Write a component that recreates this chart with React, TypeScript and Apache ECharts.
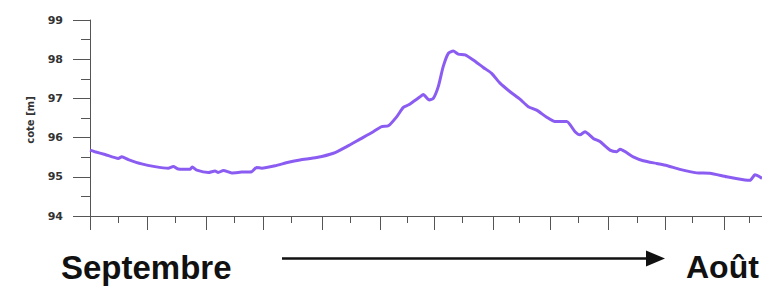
import React, { useEffect, useRef } from "react";
import * as echarts from "echarts";

// Days since 1 September
const days = [
  0, 2.6, 7.9, 14.9, 16.7, 20.2, 27.2, 34.2, 41.2, 43.8, 46.5, 52.6, 53.8, 56.2,
  62.3, 65.8, 67.5, 70.2, 74.6, 79.8, 85.1, 87.7, 90.4, 97.4, 104.4, 110.5,
  119.3, 128.1, 135.1, 142.1, 149.1, 153.5, 157.0, 161.4, 164.9, 167.5, 170.2,
  173.7, 175.4, 178.6, 180.7, 183.3, 185.9, 188.6, 191.2, 193.8, 197.4, 201.7,
  207.0, 211.4, 215.8, 221.1, 226.3, 230.7, 235.1, 240.4, 244.7, 250.9, 255.3,
  257.9, 260.5, 264.9, 268.4, 273.7, 277.2, 278.9, 285.9, 291.2, 298.3, 303.5,
  310.5, 319.3, 326.3, 335.1, 344.7, 347.4, 350.0, 353.7,
];
// Water level (cote, m)
const levels = [
  95.68, 95.64, 95.57, 95.47, 95.51, 95.44, 95.33, 95.26, 95.22, 95.26, 95.2,
  95.19, 95.25, 95.17, 95.11, 95.15, 95.11, 95.16, 95.1, 95.12, 95.13, 95.24,
  95.22, 95.28, 95.37, 95.43, 95.49, 95.6, 95.77, 95.96, 96.15, 96.28, 96.3,
  96.53, 96.77, 96.83, 96.92, 97.04, 97.1, 96.96, 97.0, 97.3, 97.81, 98.15,
  98.21, 98.13, 98.11, 97.98, 97.79, 97.64, 97.39, 97.17, 96.98, 96.79, 96.7,
  96.52, 96.41, 96.41, 96.15, 96.07, 96.15, 95.98, 95.9, 95.68, 95.64, 95.7,
  95.51, 95.41, 95.34, 95.29, 95.19, 95.1, 95.09, 95.0, 94.92, 94.91, 95.05,
  94.96,
];
// Month starts (major ticks) and mid-month (minor ticks), in days
const monthStarts = [0, 30, 61, 91, 122, 153, 181, 212, 242, 273, 303, 334];
const midMonths = [15, 45, 76, 106, 137, 167, 196, 226, 257, 288, 317, 347];
const startLabel = "Septembre";
const endLabel = "Août";
const yName = "cote [m]";

export default function App() {
  const ref = useRef<HTMLDivElement>(null);
  useEffect(() => {
    if (!ref.current) return;
    const chart = echarts.init(ref.current, null, { renderer: "svg" });
    const axisColor = "#555";
    const xMax = 353.7;
    chart.setOption({
      animation: false,
      backgroundColor: "#ffffff",
      grid: { left: 90, right: 0, top: 20, bottom: 70 },
      xAxis: [
        {
          type: "value",
          min: 0,
          max: xMax,
          position: "bottom",
          axisLine: { show: true, onZero: false, lineStyle: { color: axisColor, width: 1 } },
          axisTick: { show: true, customValues: monthStarts, length: 14, lineStyle: { color: axisColor } },
          axisLabel: { show: false },
          splitLine: { show: false },
        },
        {
          type: "value",
          min: 0,
          max: xMax,
          position: "bottom",
          axisLine: { show: false, onZero: false },
          axisTick: { show: true, customValues: midMonths, length: 7, lineStyle: { color: axisColor } },
          axisLabel: { show: false },
          splitLine: { show: false },
        },
      ],
      yAxis: {
        type: "value",
        min: 94,
        max: 99,
        interval: 1,
        axisLine: { show: true, lineStyle: { color: axisColor, width: 1 } },
        axisTick: { show: true, length: 17, lineStyle: { color: axisColor } },
        minorTick: { show: true, splitNumber: 2, length: 9, lineStyle: { color: axisColor } },
        axisLabel: {
          margin: 27,
          fontFamily: "DejaVu Sans",
          fontWeight: "bold",
          fontSize: 11,
          color: "#333",
        },
        splitLine: { show: false },
        minorSplitLine: { show: false },
      },
      series: [
        {
          type: "line",
          xAxisIndex: 0,
          data: days.map((d, i) => [d, levels[i]]),
          showSymbol: false,
          smooth: 0.2,
          lineStyle: { color: "#8b5cf1", width: 3 },
          clip: false,
        },
      ],
      graphic: [
        {
          type: "text",
          x: 30,
          y: 120,
          rotation: Math.PI / 2,
          style: {
            text: yName,
            fontFamily: "DejaVu Sans",
            fontWeight: "bold",
            fontSize: 10,
            fill: "#333",
            align: "center",
            verticalAlign: "middle",
          },
        },
        {
          type: "text",
          x: 61,
          y: 267,
          style: {
            text: startLabel,
            fontFamily: "Liberation Sans",
            fontWeight: "bold",
            fontSize: 33,
            fill: "#111",
            align: "left",
            verticalAlign: "middle",
          },
        },
        {
          type: "text",
          x: 686,
          y: 267,
          style: {
            text: endLabel,
            fontFamily: "Liberation Sans",
            fontWeight: "bold",
            fontSize: 32,
            fill: "#111",
            align: "left",
            verticalAlign: "middle",
          },
        },
        {
          type: "line",
          shape: { x1: 282, y1: 258.5, x2: 650, y2: 258.5 },
          style: { stroke: "#111", lineWidth: 2.5 },
        },
        {
          type: "polygon",
          shape: { points: [[646, 250.5], [665, 258.5], [646, 266.5]] },
          style: { fill: "#111" },
        },
      ],
    });
    return () => chart.dispose();
  }, []);
  return (
    <div
      ref={ref}
      style={{ position: "fixed", left: 0, top: 0, width: 762, height: 286 }}
    />
  );
}
